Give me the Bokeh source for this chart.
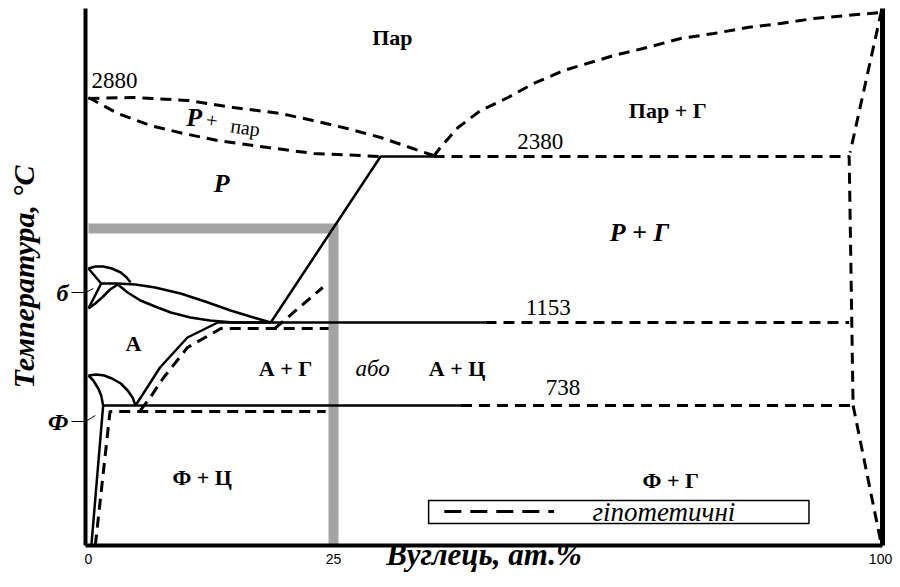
from bokeh.plotting import figure
from bokeh.models import ColumnDataSource, FixedTicker, LinearAxis, Range1d
from bokeh.core.properties import value
from bokeh.embed import file_html
from bokeh.resources import INLINE

SERIF = "Liberation Serif"

# Composition axis is schematic: 0 and 25 at.% C are to scale, 100 at.% sits at the right edge.
X_TICKS = [0, 25, 80.8]
X_TICK_LABELS = ["0", "25", "100"]

# Temperature axis is schematic too; its only marks point at the delta and ferrite fields.
Y_TICKS = [124, 253]
Y_TICK_LABELS = ["Ф", "б"]

ISOTHERM_TEXT = ["2880", "2380", "1153", "738"]
ISOTHERM_X = [0.3, 46.1, 46.9, 48.4]
ISOTHERM_Y = [465, 404, 238, 158]

# ---- solid (established) boundaries ----
LIQ_C_X = [18.6, 29.8, 35.2]
LIQ_C_Y = [223, 389, 389]
DELTA_ARC_X = [0, 0.7, 1.5, 2.4, 3.3, 3.9, 4.3]
DELTA_ARC_Y = [277, 279, 279, 277, 273, 268, 263]
DELTA_UP_X = [0, 1.3]
DELTA_UP_Y = [277, 262]
DELTA_LO_X = [0, 1.3]
DELTA_LO_Y = [237, 262]
DELTA_GAMMA_X = [0, 0.7, 1.5, 2.2, 3.0]
DELTA_GAMMA_Y = [237, 242, 249, 256, 261]
LIQUIDUS_X = [1.3, 3.0, 4.8, 6.8, 9.4, 11.9, 14.5, 16.5, 18.6]
LIQUIDUS_Y = [262, 262, 261, 258, 252, 244, 235, 229, 223]
SOLIDUS_X = [3.0, 4.0, 5.3, 6.8, 8.4, 10.4, 12.4, 14.8, 18.6]
SOLIDUS_Y = [261, 253, 245, 239, 233, 228, 225, 223, 223]
ACM_X = [4.8, 5.6, 7.3, 10.1, 13.2]
ACM_Y = [140, 152, 178, 208, 223]
A3_X = [0, 0.8, 1.6, 2.4, 3.3, 4.0, 4.5, 4.8]
A3_Y = [170, 171, 170, 167, 162, 155, 148, 140]
ALPHA_GAMMA_X = [0, 0.5, 1.0, 1.3, 1.5]
ALPHA_GAMMA_Y = [170, 165, 157, 150, 140]
FERRITE_SOLVUS_X = [1.5, 0.3]
FERRITE_SOLVUS_Y = [140, 0]
EUTECTIC_X = [13.2, 40.5]
EUTECTIC_Y = [223, 223]
EUTECTOID_X = [1.5, 38.0]
EUTECTOID_Y = [140, 140]
# leader stubs from the axis marks into the delta and ferrite fields
LEADER_D_X = [-0.3, 0.5]
LEADER_D_Y = [253, 257]
LEADER_F_X = [-0.3, 0.7]
LEADER_F_Y = [124, 130]

# ---- dashed (hypothetical) boundaries ----
VAP_UPPER_X = [0, 4.6, 10.1, 14.8, 19.6, 22.9, 26.4, 29.8, 35.2]
VAP_UPPER_Y = [447, 448, 445, 438, 432, 425, 417, 408, 390]
VAP_LOWER_X = [0, 3.0, 6.3, 9.7, 13.2, 18.3, 23.0, 29.8]
VAP_LOWER_Y = [448, 432, 420, 412, 405, 398, 392, 389]
VAP_GRAPHITE_X = [35.2, 35.9, 37.7, 40.0, 42.8, 45.4, 48.5, 50.2, 53.6, 57.0,
                  60.4, 63.8, 67.2, 70.6, 74.0, 77.4, 80.8]
VAP_GRAPHITE_Y = [389, 398, 418, 435, 448, 462, 475, 480, 490, 498,
                  507, 512, 518, 522, 527, 530, 533]
SUBLIM_X = [80.9, 77.7]
SUBLIM_Y = [535, 393]
ISO_2380_X = [35.2, 77.6, 78.0]
ISO_2380_Y = [389, 389, 140]
EUTECTIC_D_X = [40.5, 77.6]
EUTECTIC_D_Y = [223, 223]
EUTECTOID_D_X = [38.0, 78.0]
EUTECTOID_D_Y = [140, 140]
GRAPHITE_LOW_X = [78.0, 80.9]
GRAPHITE_LOW_Y = [140, 0]
ACM_STABLE_X = [5.3, 6.3, 7.6, 10.1, 12.8, 13.5, 24.5]
ACM_STABLE_Y = [135, 148, 167, 198, 213, 217, 217]
STABLE_EUTECTOID_X = [0.7, 2.2, 24.2]
STABLE_EUTECTOID_Y = [0, 134, 134]
LIQ_C_STABLE_X = [19.0, 23.9]
LIQ_C_STABLE_Y = [217, 258]

# grey marker lines at 25 at.% C
MARK_X = [0, 25, 25]
MARK_Y = [317, 317, 0]

# phase-field labels
BOLD_TEXT = ["Пар", "Пар + Г", "А", "А + Г", "А + Ц", "Ф + Ц", "Ф + Г"]
BOLD_X = [31.0, 59.1, 4.6, 20.1, 37.6, 11.6, 59.4]
BOLD_Y = [508, 435, 202, 177, 177, 68, 65]
LIQ_TEXT = ["Р", "Р + Г", "Р"]
LIQ_TX = [13.6, 56.2, 10.8]
LIQ_TY = [362, 313, 428]

# key for the dashed lines: frame, sample stroke and caption
KEY_TEXT = "гіпотетичні"
KEY_BOX = dict(left=34.7, right=73.5, bottom=22, top=45)
KEY_SAMPLE_X = [36.3, 47.5]
KEY_SAMPLE_Y = [34, 34]
KEY_TEXT_X = 58.7
KEY_TEXT_Y = 34

solid = ColumnDataSource(dict(
    xs=[LIQ_C_X, DELTA_ARC_X, DELTA_UP_X, DELTA_LO_X, DELTA_GAMMA_X, LIQUIDUS_X,
        SOLIDUS_X, ACM_X, A3_X, ALPHA_GAMMA_X, FERRITE_SOLVUS_X, EUTECTIC_X, EUTECTOID_X],
    ys=[LIQ_C_Y, DELTA_ARC_Y, DELTA_UP_Y, DELTA_LO_Y, DELTA_GAMMA_Y, LIQUIDUS_Y,
        SOLIDUS_Y, ACM_Y, A3_Y, ALPHA_GAMMA_Y, FERRITE_SOLVUS_Y, EUTECTIC_Y, EUTECTOID_Y],
))
dashed = ColumnDataSource(dict(
    xs=[VAP_UPPER_X, VAP_LOWER_X, VAP_GRAPHITE_X, SUBLIM_X, ISO_2380_X, EUTECTIC_D_X,
        EUTECTOID_D_X, GRAPHITE_LOW_X, ACM_STABLE_X, STABLE_EUTECTOID_X, LIQ_C_STABLE_X],
    ys=[VAP_UPPER_Y, VAP_LOWER_Y, VAP_GRAPHITE_Y, SUBLIM_Y, ISO_2380_Y, EUTECTIC_D_Y,
        EUTECTOID_D_Y, GRAPHITE_LOW_Y, ACM_STABLE_Y, STABLE_EUTECTOID_Y, LIQ_C_STABLE_Y],
))

p = figure(width=900, height=587, x_range=Range1d(-0.3, 81.0), y_range=Range1d(0, 537),
           output_backend="svg", toolbar_location=None,
           min_border_left=85, min_border_right=18, min_border_top=8, min_border_bottom=42)
p.outline_line_color = None
p.xgrid.visible = False
p.ygrid.visible = False
p.background_fill_color = "white"
p.border_fill_color = "white"

# composition axis
p.xaxis.ticker = FixedTicker(ticks=X_TICKS)
p.xaxis.major_label_overrides = {t: s for t, s in zip(X_TICKS, X_TICK_LABELS)}
p.xaxis.major_tick_line_color = None
p.xaxis.major_tick_out = 0
p.xaxis.minor_tick_line_color = None
p.xaxis.major_label_text_font = "Liberation Sans"
p.xaxis.major_label_text_font_size = "14px"
p.xaxis.major_label_text_color = "black"
p.xaxis.major_label_standoff = 8
p.xaxis.axis_line_width = 4
p.xaxis.axis_label = "Вуглець, ат.%"
p.xaxis.axis_label_text_font = SERIF
p.xaxis.axis_label_text_font_style = "bold italic"
p.xaxis.axis_label_text_font_size = "31px"
p.xaxis.axis_label_text_color = "black"
p.xaxis.axis_label_standoff = -30

# temperature axis
p.yaxis.ticker = FixedTicker(ticks=Y_TICKS)
p.yaxis.major_label_overrides = {t: s for t, s in zip(Y_TICKS, Y_TICK_LABELS)}
p.yaxis.minor_tick_line_color = None
p.yaxis.major_tick_out = 14
p.yaxis.major_tick_in = 0
p.yaxis.major_tick_line_width = 1
p.yaxis.major_label_standoff = 3
p.yaxis.major_label_text_font = SERIF
p.yaxis.major_label_text_font_style = "bold italic"
p.yaxis.major_label_text_font_size = "24px"
p.yaxis.major_label_text_color = "black"
p.yaxis.axis_line_width = 4
p.yaxis.axis_label = "Температура, °C"
p.yaxis.axis_label_text_font = SERIF
p.yaxis.axis_label_text_font_style = "bold italic"
p.yaxis.axis_label_text_font_size = "30px"
p.yaxis.axis_label_text_color = "black"
p.yaxis.axis_label_standoff = 5

right = LinearAxis(ticker=FixedTicker(ticks=[]), axis_line_width=5,
                   minor_tick_line_color=None)
p.add_layout(right, "right")

# grey 25 at.% marker
p.line(MARK_X, MARK_Y, line_color="#a3a3a3", line_width=10, line_join="miter")

p.multi_line("xs", "ys", source=solid, line_color="black", line_width=2.5)
p.multi_line([LEADER_D_X, LEADER_F_X], [LEADER_D_Y, LEADER_F_Y], line_color="black",
             line_width=1)
p.multi_line("xs", "ys", source=dashed, line_color="black", line_width=3,
             line_dash="11 7")

# isotherm values
p.text(x=ISOTHERM_X[:1], y=ISOTHERM_Y[:1], text=ISOTHERM_TEXT[:1], text_font=value(SERIF),
       text_font_size="23px", text_align="left", text_baseline="middle")
p.text(x=ISOTHERM_X[1:], y=ISOTHERM_Y[1:], text=ISOTHERM_TEXT[1:], text_font=value(SERIF),
       text_font_size="23px", text_align="center", text_baseline="middle")

# phase fields
p.text(x=BOLD_X, y=BOLD_Y, text=BOLD_TEXT, text_font=value(SERIF), text_font_style="bold",
       text_font_size="22px", text_align="center", text_baseline="middle")
p.text(x=LIQ_TX, y=LIQ_TY, text=LIQ_TEXT, text_font=value(SERIF),
       text_font_style="bold italic", text_font_size="26px", text_align="center",
       text_baseline="middle")
p.text(x=[12.6], y=[425], text=["+"], text_font=value(SERIF), text_font_size="21px",
       text_align="center", text_baseline="middle", angle=-0.14)
p.text(x=[16.0], y=[418], text=["пар"], text_font=value(SERIF), text_font_size="20px",
       text_align="center", text_baseline="middle", angle=-0.14)
p.text(x=[29.0], y=[177], text=["або"], text_font=value(SERIF), text_font_style="italic",
       text_font_size="23px", text_align="center", text_baseline="middle")

# key
p.quad(**KEY_BOX, fill_color="white", line_color="black", line_width=1.5)
p.line(KEY_SAMPLE_X, KEY_SAMPLE_Y, line_color="black", line_width=3, line_dash="17 9")
p.text(x=[KEY_TEXT_X], y=[KEY_TEXT_Y], text=[KEY_TEXT], text_font=value(SERIF),
       text_font_style="italic", text_font_size="27px", text_align="center",
       text_baseline="middle")

open("out.html", "w").write(file_html(p, INLINE))
